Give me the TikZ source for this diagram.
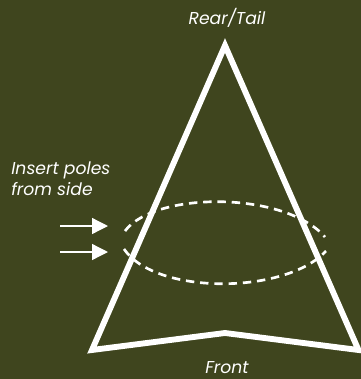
\documentclass[tikz,border=0pt]{standalone}
\usepackage{fontspec}
\setmainfont{Poppins}
\usepackage{xcolor}
\usetikzlibrary{arrows.meta}
\definecolor{olivebg}{HTML}{3F451E}

\begin{document}
\begin{tikzpicture}[
  x=0.75pt, y=-0.75pt,
  lbl/.style={text=white, font=\itshape\fontsize{12.9pt}{15.75pt}\selectfont, align=left, inner sep=0pt},
  hull/.style={draw=white, line width=4.4pt, miter limit=20},
  pole/.style={draw=white, line width=1pt, -{Triangle[length=12pt, width=12pt]}},
  seam/.style={draw=white, line width=2pt, dash pattern=on 6.3pt off 4.4pt}
]
  \fill[olivebg] (0,0) rectangle (361,379);
  \useasboundingbox (0,0) rectangle (361,379);

  \coordinate (tip) at (225,45.5);
  \coordinate (fl) at (92,350);
  \coordinate (fc) at (225,333);
  \coordinate (fr) at (358.5,350);
  \draw[hull] (tip) -- (fr) -- (fc) -- (fl) -- cycle;

  \coordinate (ul) at (125,231);
  \coordinate (ur) at (325,237);
  \coordinate (ll) at (124,249);
  \coordinate (lr) at (326,251);
  \draw[seam] (ul) .. controls (155,191) and (285,191) .. (ur);
  \draw[seam] (ll) .. controls (155,295) and (285,295) .. (lr);

  \coordinate (p1a) at (60,226);
  \coordinate (p1b) at (108,226);
  \coordinate (p2a) at (60,252);
  \coordinate (p2b) at (108,252);
  \draw[pole] (p1a) -- (p1b);
  \draw[pole] (p2a) -- (p2b);

  \node[lbl, anchor=center] (rear) at (227,18) {Rear/Tail};
  \node[lbl, anchor=center] (front) at (227,368) {Front};
  \node[lbl, anchor=north west] (side) at (11,162) {Insert poles\\from side};
\end{tikzpicture}
\end{document}
